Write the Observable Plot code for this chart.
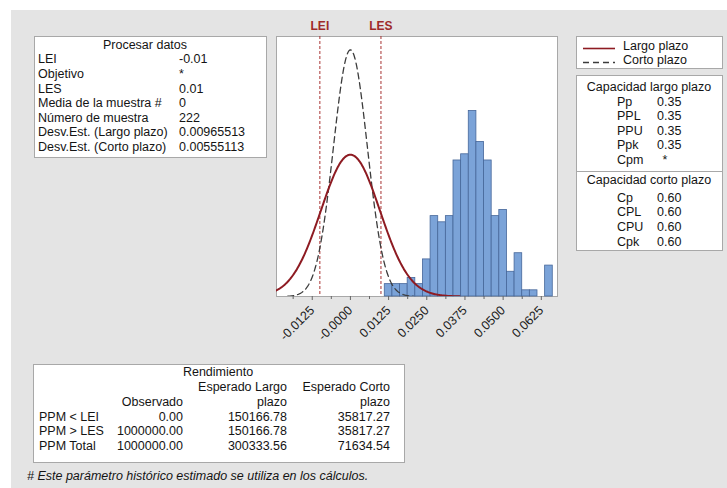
<!DOCTYPE html>
<html>
<head>
<meta charset="utf-8">
<script src="https://cdn.jsdelivr.net/npm/d3@7"></script>
<script src="https://cdn.jsdelivr.net/npm/@observablehq/plot@0.6"></script>
<style>
  html, body { margin: 0; padding: 0; background: #ffffff; }
  #page { position: relative; width: 727px; height: 488px; overflow: hidden; background: #ffffff;
          font-family: "Liberation Sans", Arial, sans-serif; font-size: 12.5px; color: #141414; }
  #panel { position: absolute; left: 11px; top: 10px; right: 0; bottom: 0; background: #e4e4e4; }
  .box { position: absolute; background: #ffffff; border: 1px solid #a8a8a8; box-sizing: border-box; }
  .t { position: absolute; white-space: nowrap; line-height: 14px; }
  #chart { position: absolute; left: 266px; top: 10px; }
</style>
</head>
<body>
<div id="page">
  <div id="panel"></div>
  <div id="chart"></div>
</div>
<script>
// Process data (historical parameters)
const lsl = -0.01;
const usl = 0.01;
const histMean = 0;
const sampleN = 222;
const sdLong = 0.00965513;
const sdShort = 0.00555113;

// Histogram of the sample: bin centres and counts (bin width 0.0025)
const binWidth = 0.0025;
const binCenters = [0.0125, 0.015, 0.0175, 0.02, 0.0225, 0.025, 0.0275, 0.03, 0.0325, 0.035, 0.0375,
                    0.04, 0.0425, 0.045, 0.0475, 0.05, 0.0525, 0.055, 0.0575, 0.06, 0.0625, 0.065];
const binCounts = [2, 2, 2, 3, 2, 6, 13, 12, 13, 22, 23, 30, 25, 22, 13, 14, 4, 7, 1, 1, 0, 5];

// Axis ticks
const tickValues = [-0.0125, 0, 0.0125, 0.025, 0.0375, 0.05, 0.0625];
const tickLabels = ["-0.0125", "-0.0000", "0.0125", "0.0250", "0.0375", "0.0500", "0.0625"];
const minorTicks = [-0.01875, -0.00625, 0.00625, 0.01875, 0.03125, 0.04375, 0.05625];

// Text tables
const procLabels = ["LEI", "Objetivo", "LES", "Media de la muestra #", "Número de muestra",
                    "Desv.Est. (Largo plazo)", "Desv.Est. (Corto plazo)"];
const procValues = ["-0.01", "*", "0.01", "0", "222", "0.00965513", "0.00555113"];
const longCapLabels = ["Pp", "PPL", "PPU", "Ppk", "Cpm"];
const longCapValues = ["0.35", "0.35", "0.35", "0.35", "*"];
const shortCapLabels = ["Cp", "CPL", "CPU", "Cpk"];
const shortCapValues = ["0.60", "0.60", "0.60", "0.60"];
const perfRows = ["PPM < LEI", "PPM > LES", "PPM Total"];
const perfObserved = ["0.00", "1000000.00", "1000000.00"];
const perfExpLong = ["150166.78", "150166.78", "300333.56"];
const perfExpShort = ["35817.27", "35817.27", "71634.54"];

const bins = binCenters.map((c, i) => ({x1: c - binWidth / 2, x2: c + binWidth / 2, count: binCounts[i]}));

// Fitted normal curves, scaled to histogram counts
function normalCurve(sd) {
  const k = sampleN * binWidth / (sd * Math.sqrt(2 * Math.PI));
  return d3.range(0, 241).map(i => {
    const x = histMean - 3.7 * sd + i * (7.4 * sd) / 240;
    return {x, y: k * Math.exp(-0.5 * ((x - histMean) / sd) ** 2)};
  });
}
const curveLong = normalCurve(sdLong);
const curveShort = normalCurve(sdShort);
const specs = [{x: lsl, label: "LEI"}, {x: usl, label: "LES"}];

const chart = Plot.plot({
  width: 300,
  height: 360,
  marginLeft: 10,
  marginRight: 9,
  marginTop: 26,
  marginBottom: 74,
  style: {background: "transparent", fontFamily: "'Liberation Sans', Arial, sans-serif", fontSize: "12.5px", color: "#1a1a1a"},
  x: {domain: [-0.0242, 0.0678]},
  y: {domain: [0, 42.05], axis: null},
  marks: [
    Plot.frame({fill: "#ffffff", stroke: "#a8a8a8"}),
    Plot.rectY(bins, {x1: "x1", x2: "x2", y: "count", fill: "#7ba3d8", stroke: "#46679a", strokeWidth: 0.8}),
    Plot.ruleX(specs, {x: "x", stroke: "#a83232", strokeWidth: 1, strokeDasharray: "3,2"}),
    Plot.line(curveShort, {x: "x", y: "y", stroke: "#3c3c3c", strokeWidth: 1.3, strokeDasharray: "6,4", clip: true}),
    Plot.line(curveLong, {x: "x", y: "y", stroke: "#8e1b22", strokeWidth: 2, clip: true}),
    Plot.text(specs, {x: "x", text: "label", frameAnchor: "top", lineAnchor: "middle", dy: -10,
                      fill: "#9e2a2a", fontWeight: "bold", fontSize: 12}),
    Plot.axisX({ticks: minorTicks, tickSize: 3, tickFormat: () => "", label: null, stroke: "#666"}),
    Plot.axisX({ticks: tickValues, tickSize: 4, tickRotate: -45, tickFormat: (d, i) => tickLabels[i],
                label: null, stroke: "#666", fill: "#1a1a1a", fontSize: 12.5})
  ]
});
document.getElementById("chart").appendChild(chart);

// Helpers for the text tables
const page = document.getElementById("page");
function box(left, top, width, height) {
  const b = document.createElement("div");
  b.className = "box";
  Object.assign(b.style, {left: left + "px", top: top + "px", width: width + "px", height: height + "px"});
  page.appendChild(b);
  return b;
}
function text(parent, str, x, cy, align = "left", extra = {}) {
  const t = document.createElement("div");
  t.className = "t";
  t.textContent = str;
  t.style.top = (cy - 7) + "px";
  if (align === "left") t.style.left = x + "px";
  else if (align === "right") t.style.right = x + "px";
  else { t.style.left = (x - 100) + "px"; t.style.width = "200px"; t.style.textAlign = "center"; }
  Object.assign(t.style, extra);
  parent.appendChild(t);
  return t;
}

// Procesar datos
const proc = box(34, 36, 233, 122);
text(proc, "Procesar datos", 110, 8, "center");
procLabels.forEach((s, i) => {
  text(proc, s, 3, 22.3 + i * 14.6);
  text(proc, procValues[i], 144, 22.3 + i * 14.6);
});

// Legend
const leg = box(576, 36, 147, 33);
leg.insertAdjacentHTML("beforeend",
  '<svg width="147" height="33" style="position:absolute;left:-1px;top:-1px">' +
  '<line x1="7" x2="39" y1="12.5" y2="12.5" stroke="#8e1b22" stroke-width="1.6"/>' +
  '<line x1="7" x2="39" y1="26.5" y2="26.5" stroke="#3c3c3c" stroke-width="1.3" stroke-dasharray="6,4"/></svg>');
text(leg, "Largo plazo", 46, 8.8);
text(leg, "Corto plazo", 46, 23.2);

// Capacidad
const cap = box(576, 75, 147, 176);
text(cap, "Capacidad largo plazo", 72, 10.5, "center");
longCapLabels.forEach((s, i) => {
  text(cap, s, 40, 25.5 + i * 14.5);
  if (longCapValues[i] === "*") text(cap, "*", 88, 25.5 + i * 14.5, "center");
  else text(cap, longCapValues[i], 80, 25.5 + i * 14.5);
});
const divider = document.createElement("div");
Object.assign(divider.style, {position: "absolute", left: "0", right: "0", top: "95px", height: "1px", background: "#a8a8a8"});
cap.appendChild(divider);
text(cap, "Capacidad corto plazo", 72, 103.5, "center");
shortCapLabels.forEach((s, i) => {
  text(cap, s, 40, 121.8 + i * 14.6);
  text(cap, shortCapValues[i], 80, 121.8 + i * 14.6);
});

// Rendimiento
const perf = box(33, 364, 372, 99);
text(perf, "Rendimiento", 184, 7, "center");
text(perf, "Esperado Largo", 117, 22, "right");
text(perf, "Esperado Corto", 14, 22, "right");
text(perf, "Observado", 221, 36.8, "right");
text(perf, "plazo", 117, 36.8, "right");
text(perf, "plazo", 14, 36.8, "right");
perfRows.forEach((s, i) => {
  const cy = 51.5 + i * 14.6;
  text(perf, s, 5, cy);
  text(perf, perfObserved[i], 221, cy, "right");
  text(perf, perfExpLong[i], 117, cy, "right");
  text(perf, perfExpShort[i], 14, cy, "right");
});

// Footnote
text(page, "# Este parámetro histórico estimado se utiliza en los cálculos.", 27, 476, "left", {fontStyle: "italic"});
</script>
</body>
</html>
